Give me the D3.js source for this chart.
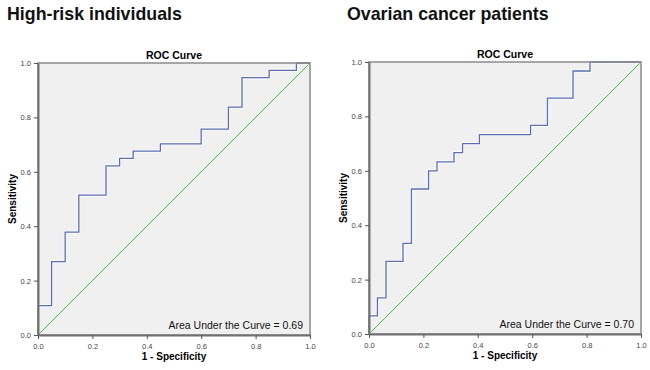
<!DOCTYPE html>
<html>
<head>
<meta charset="utf-8">
<script src="https://cdn.jsdelivr.net/npm/d3@7"></script>
<style>
  body { margin: 0; background: #fff; }
  svg { display: block; font-family: "Liberation Sans", Arial, sans-serif; }
</style>
</head>
<body>
<svg id="chart" width="650" height="370"></svg>
<script>
// ROC points (1 - specificity, sensitivity), step corners
const highRiskFpr = [0, 0, 0.05, 0.10, 0.15, 0.25, 0.30, 0.35, 0.45, 0.60, 0.70, 0.75, 0.85, 0.95, 1.0]
const highRiskTpr = [0, 0.108, 0.270, 0.378, 0.514, 0.622, 0.649, 0.676, 0.703, 0.757, 0.838, 0.946, 0.973, 1.0, 1.0]

const ovarianFpr = [0, 0, 0.031, 0.0625, 0.125, 0.156, 0.219, 0.25, 0.3125, 0.344, 0.406, 0.594, 0.656, 0.75, 0.8125, 1.0]
const ovarianTpr = [0, 0.067, 0.133, 0.267, 0.333, 0.533, 0.600, 0.633, 0.667, 0.700, 0.733, 0.767, 0.867, 0.967, 1.0, 1.0]

const tickValues = [0, 0.2, 0.4, 0.6, 0.8, 1.0]
const panelTitles = ["High-risk individuals", "Ovarian cancer patients"]
const aucValues = ["0.69", "0.70"]

const svg = d3.select("#chart")

const panels = [
  {title: panelTitles[0], auc: aucValues[0], fpr: highRiskFpr, tpr: highRiskTpr,
   left: 38, right: 310, top: 63, bottom: 335, titleX: 7},
  {title: panelTitles[1], auc: aucValues[1], fpr: ovarianFpr, tpr: ovarianTpr,
   left: 369, right: 641, top: 62, bottom: 334, titleX: 347}
]

panels.forEach(function(p) {
  const x = d3.scaleLinear().domain([0, 1]).range([p.left, p.right])
  const y = d3.scaleLinear().domain([0, 1]).range([p.bottom, p.top])
  const g = svg.append("g")

  // big heading
  g.append("text").attr("x", p.titleX).attr("y", 20)
    .style("font-size", "17.8px").style("font-weight", "bold").attr("fill", "#111")
    .text(p.title)

  // plot background
  g.append("rect").attr("x", p.left).attr("y", p.top)
    .attr("width", p.right - p.left).attr("height", p.bottom - p.top)
    .attr("fill", "#f0f0f0")

  // chance line
  g.append("line")
    .attr("x1", x(0)).attr("y1", y(0)).attr("x2", x(1)).attr("y2", y(1))
    .attr("stroke", "#45bd45").attr("stroke-width", 1)

  // roc curve
  const pts = p.fpr.map((d, i) => [d, p.tpr[i]])
  const line = d3.line().x(d => x(d[0])).y(d => y(d[1])).curve(d3.curveStepAfter)
  g.append("path").datum(pts).attr("d", line)
    .attr("fill", "none").attr("stroke", "#ffffff").attr("stroke-width", 3).attr("opacity", 0.8)
  g.append("path").datum(pts).attr("d", line)
    .attr("fill", "none").attr("stroke", "#5a6cb4").attr("stroke-width", 1.3)

  // frame
  g.append("rect").attr("x", p.left).attr("y", p.top)
    .attr("width", p.right - p.left).attr("height", p.bottom - p.top)
    .attr("fill", "none").attr("stroke", "#8a8a8a").attr("stroke-width", 1.5)

  // axes
  const xAxis = d3.axisBottom(x).tickValues(tickValues).tickFormat(d3.format(".1f")).tickSize(4).tickSizeOuter(0)
  const yAxis = d3.axisLeft(y).tickValues(tickValues).tickFormat(d3.format(".1f")).tickSize(4).tickSizeOuter(0)
  const xa = g.append("g").attr("transform", `translate(0,${p.bottom})`).call(xAxis)
  const ya = g.append("g").attr("transform", `translate(${p.left},0)`).call(yAxis)
  ;[xa, ya].forEach(a => {
    a.select(".domain").attr("stroke", "#707070").attr("stroke-width", 2)
    a.selectAll(".tick line").attr("stroke", "#555")
    a.selectAll(".tick text").attr("fill", "#444").style("font-size", "7.5px")
      .style("font-family", "'Liberation Sans', Arial, sans-serif")
  })
  xa.selectAll(".tick text").attr("dy", "0.9em")

  // chart title
  g.append("text").attr("x", (p.left + p.right) / 2).attr("y", p.top - 4)
    .attr("text-anchor", "middle").style("font-size", "10.5px").style("font-weight", "bold")
    .text("ROC Curve")

  // axis titles
  g.append("text").attr("x", (p.left + p.right) / 2).attr("y", p.bottom + 25)
    .attr("text-anchor", "middle").style("font-size", "10px").style("font-weight", "bold")
    .text("1 - Specificity")
  g.append("text").attr("transform", `translate(${p.left - 22},${(p.top + p.bottom) / 2}) rotate(-90)`)
    .attr("text-anchor", "middle").style("font-size", "10px").style("font-weight", "bold")
    .text("Sensitivity")

  // auc note
  g.append("text").attr("x", p.right - 7).attr("y", p.bottom - 6)
    .attr("text-anchor", "end").style("font-size", "10.5px").attr("fill", "#111")
    .text("Area Under the Curve = " + p.auc)
})
</script>
</body>
</html>
